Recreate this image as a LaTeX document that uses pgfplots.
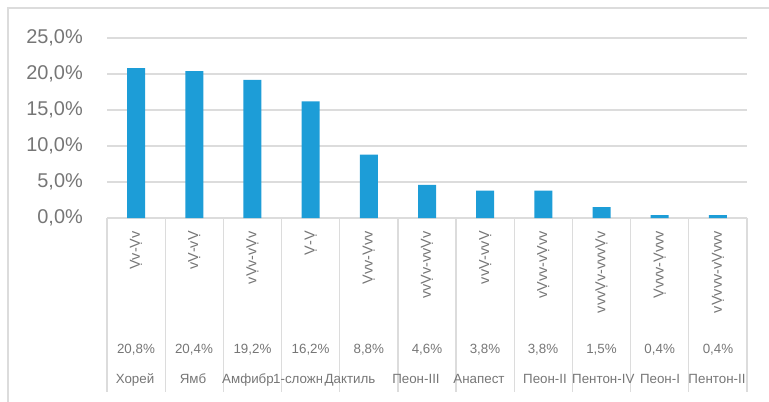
\documentclass[border=0pt]{standalone}
\usepackage{fontspec}
\setmainfont{Liberation Sans}
\usepackage{pgfplots}
\pgfplotsset{compat=1.18}
\definecolor{barblue}{HTML}{1D9DD7}
\definecolor{gridgray}{HTML}{DCDCDC}
\definecolor{txtgray}{HTML}{767676}
\newcommand\lab{\fontsize{13.4}{16}\selectfont\color{txtgray}}

\begin{document}
\begin{tikzpicture}
\useasboundingbox (0bp,0bp) rectangle (769bp,402bp);
% chart frame
\draw[gridgray, line width=1.5bp] (8bp,-10bp) -- (8bp,394bp) -- (790bp,394bp);

\begin{axis}[
    at={(107bp,184bp)}, anchor=south west,
    scale only axis, width=640bp, height=180bp,
    xmin=-0.5, xmax=10.5, ymin=0, ymax=25,
    clip=false,
    axis line style={draw=none},
    tick style={draw=none},
    ytick={0,5,...,25},
    yticklabels={{0,0\%},{5,0\%},{10,0\%},{15,0\%},{20,0\%},{25,0\%}},
    yticklabel style={font=\fontsize{20}{24}\selectfont, text=txtgray,
        anchor=east, inner sep=0pt, xshift=-24bp},
    ymajorgrids, major grid style={draw=gridgray, line width=1.2bp},
    xtick={0,...,10},
    xticklabels={Ṿv-Ṿv, vṾ-vṾ, vṾv-vṾv, Ṿ-Ṿ, Ṿvv-Ṿvv, vvṾv-vvṾv,
        vvṾ-vvṾ, vṾvv-vṾvv, vvvṾv-vvvṾv, Ṿvvv-Ṿvvv, vṾvvv-vṾvvv},
    xticklabel style={font=\fontsize{14.5}{17}\selectfont, text=txtgray,
        yshift=-13bp, rotate=90, anchor=east, inner sep=0pt},
]
% category table separators
\pgfplotsinvokeforeach{-0.5,0.5,...,10.5}{
    \draw[gridgray, line width=1.2bp] (axis cs:#1,0) -- ++(0bp,-174bp);
}

\addplot[ybar, bar width=18bp, fill=barblue, draw=none] table {
x  y
0  20.8
1  20.4
2  19.2
3  16.2
4  8.8
5  4.6
6  3.8
7  3.8
8  1.5
9  0.4
10 0.4
};
\end{axis}

\begin{scope}[x=1bp, y=1bp]
% percentage row
\foreach \x/\t in {136/{20,8\%}, 194/{20,4\%}, 252.5/{19,2\%}, 310.6/{16,2\%},
    368.8/{8,8\%}, 427/{4,6\%}, 485/{3,8\%}, 543/{3,8\%}, 601.5/{1,5\%},
    659.7/{0,4\%}, 718/{0,4\%}}
    \node[anchor=base, inner sep=0pt, font=\lab] at (\x,49) {\t};

% name row
\node[anchor=base, inner sep=0pt, font=\lab] at (135,19) {Хорей};
\node[anchor=base, inner sep=0pt, font=\lab] at (193,19) {Ямб};
\begin{scope}
  \clip (222,10) rectangle (273,40);
  \node[anchor=base west, inner sep=0pt, font=\lab] at (222,19) {Амфибрахий};
\end{scope}
\begin{scope}
  \clip (273,10) rectangle (321,40);
  \node[anchor=base west, inner sep=0pt, font=\lab] at (273,19) {1-сложник};
\end{scope}
\node[anchor=base, inner sep=0pt, font=\lab] at (350,19) {Дактиль};
\node[anchor=base, inner sep=0pt, font=\lab] at (416,19) {Пеон-III};
\node[anchor=base, inner sep=0pt, font=\lab] at (479,19) {Анапест};
\begin{scope}
  \clip (500,10) rectangle (572,40);
  \node[anchor=base, inner sep=0pt, font=\lab] at (545,19) {Пеон-II};
\end{scope}
\node[anchor=base west, inner sep=0pt, font=\lab] at (572,19) {Пентон-IV};
\node[anchor=base, inner sep=0pt, font=\lab] at (660,19) {Пеон-I};
\node[anchor=base, inner sep=0pt, font=\lab] at (717,19) {Пентон-II};
\end{scope}
\end{tikzpicture}
\end{document}
